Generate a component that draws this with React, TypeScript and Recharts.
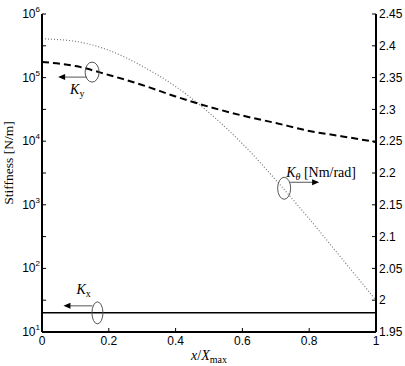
import React from 'react';
import { ComposedChart, Line, XAxis, YAxis, ReferenceDot } from 'recharts';

const xPos = [0, 0.1, 0.2, 0.3, 0.4, 0.5, 0.6, 0.7, 0.8, 0.9, 1];
const kY = [176000, 152000, 110000, 76600, 50500, 34800, 25300, 19300, 14500, 11900, 9700];
const kTheta = [2.411, 2.407, 2.393, 2.368, 2.336, 2.295, 2.246, 2.189, 2.128, 2.064, 2.0];
const kX = [20, 20, 20, 20, 20, 20, 20, 20, 20, 20, 20];

const xTicks = [0, 0.2, 0.4, 0.6, 0.8, 1];
const leftTicks = [10, 31.62, 100, 316.2, 1000, 3162, 10000, 31623, 100000, 316228, 1000000];
const rightTicks = [1.95, 2, 2.05, 2.1, 2.15, 2.2, 2.25, 2.3, 2.35, 2.4, 2.45];
const decades = [10, 100, 1000, 10000, 100000];
const mantissas = [2, 3, 4, 5, 6, 7, 8, 9];
const minorTicks = decades.flatMap((d) => mantissas.map((m) => m * d));

const data = xPos.map((x, i) => ({ x, ky: kY[i], kt: kTheta[i], kx: kX[i] }));

const SANS = 'Liberation Sans, Arial, sans-serif';
const SERIF = 'Liberation Serif, Times New Roman, serif';

const LeftTick = (props: any) => {
  const { x, y, payload } = props;
  const e = Math.log10(payload.value);
  if (Math.abs(e - Math.round(e)) > 0.01) return <g />;
  return (
    <text x={x} y={y} dy={4} textAnchor="end" fontSize={12} fontFamily={SANS} fill="#000">
      10<tspan dy={-6} fontSize={8}>{Math.round(e)}</tspan>
    </text>
  );
};

const noTick = () => <g />;

const arrowLeft = (tx: number, ty: number) => `${tx},${ty} ${tx + 7},${ty - 3} ${tx + 7},${ty + 3}`;
const arrowRight = (tx: number, ty: number) => `${tx},${ty} ${tx - 7},${ty - 3} ${tx - 7},${ty + 3}`;

const KyMark = ({ cx, cy }: any) => (
  <g>
    <ellipse cx={cx} cy={cy} rx={7} ry={10} fill="none" stroke="#555" />
    <line x1={cx - 5} y1={cy + 5} x2={cx - 30} y2={cy + 5} stroke="#555" />
    <polygon points={arrowLeft(cx - 34, cy + 5)} fill="#000" />
    <text x={cx - 22} y={cy + 22} fontFamily={SERIF} fontSize={14} fill="#000">
      <tspan fontStyle="italic">K</tspan>
      <tspan dy={3} fontSize={10}>y</tspan>
    </text>
  </g>
);

const KtMark = ({ cx, cy }: any) => (
  <g>
    <ellipse cx={cx} cy={cy} rx={6.5} ry={11} fill="none" stroke="#555" />
    <line x1={cx + 6} y1={cy - 6} x2={cx + 30} y2={cy - 6} stroke="#555" />
    <polygon points={arrowRight(cx + 35, cy - 6)} fill="#000" />
    <text x={cx + 2} y={cy - 11} fontFamily={SERIF} fontSize={14} fill="#000">
      <tspan fontStyle="italic">K</tspan>
      <tspan dy={3} fontSize={10} fontStyle="italic">θ</tspan>
      <tspan dy={-3}> [Nm/rad]</tspan>
    </text>
  </g>
);

const KxMark = ({ cx, cy }: any) => (
  <g>
    <ellipse cx={cx} cy={cy} rx={5.5} ry={11} fill="none" stroke="#555" />
    <line x1={cx - 5} y1={cy - 7} x2={cx - 30} y2={cy - 7} stroke="#555" />
    <polygon points={arrowLeft(cx - 34, cy - 7)} fill="#000" />
    <text x={cx - 21} y={cy - 19} fontFamily={SERIF} fontSize={14} fill="#000">
      <tspan fontStyle="italic">K</tspan>
      <tspan dy={3} fontSize={10}>x</tspan>
    </text>
  </g>
);

const YLabel = (props: any) => {
  const { viewBox } = props;
  const x = viewBox.x + 13;
  const y = viewBox.y + viewBox.height / 2 - 10;
  return (
    <text x={x} y={y} transform={`rotate(-90, ${x}, ${y})`} textAnchor="middle" fontFamily={SERIF} fontSize={13.5} fill="#000">
      Stiffness [N/m]
    </text>
  );
};

const XLabel = (props: any) => {
  const { viewBox } = props;
  const x = viewBox.x + viewBox.width / 2;
  const y = viewBox.y + 28;
  return (
    <text x={x} y={y} textAnchor="middle" fontFamily={SERIF} fontSize={14} fill="#000">
      <tspan fontStyle="italic">x</tspan>
      <tspan>/</tspan>
      <tspan fontStyle="italic">X</tspan>
      <tspan dy={3} fontSize={10}>max</tspan>
    </text>
  );
};

const axisLine = { stroke: '#000', strokeWidth: 2 };
const tickLine = { stroke: '#000', strokeWidth: 1 };

export default function App() {
  return (
    <div style={{ position: 'absolute', left: 0, top: 0 }}>
      <ComposedChart width={405} height={366} data={data} margin={{ top: 14, right: 0, bottom: 0, left: 0 }}>
        <XAxis
          xAxisId="b"
          dataKey="x"
          type="number"
          domain={[0, 1]}
          ticks={xTicks}
          interval={0}
          allowDataOverflow
          height={34}
          tickSize={-4}
          tickMargin={8}
          axisLine={axisLine}
          tickLine={tickLine}
          tick={{ fontSize: 12, fill: '#000', fontFamily: SANS }}
          label={XLabel}
        />
        <XAxis
          xAxisId="t"
          orientation="top"
          dataKey="x"
          type="number"
          domain={[0, 1]}
          ticks={xTicks}
          interval={0}
          allowDataOverflow
          height={0}
          tickSize={-4}
          axisLine={axisLine}
          tickLine={tickLine}
          tick={noTick}
        />
        <YAxis
          yAxisId="minL"
          scale="log"
          type="number"
          domain={[10, 1000000]}
          allowDataOverflow
          ticks={minorTicks}
          interval={0}
          width={0}
          tickSize={-2}
          axisLine={false}
          tickLine={tickLine}
          tick={noTick}
        />
        <YAxis
          yAxisId="left"
          scale="log"
          type="number"
          domain={[10, 1000000]}
          allowDataOverflow
          ticks={leftTicks}
          interval={0}
          width={42}
          tickSize={-4}
          tickMargin={6}
          axisLine={axisLine}
          tickLine={tickLine}
          tick={LeftTick}
          label={YLabel}
        />
        <YAxis
          yAxisId="minR"
          orientation="right"
          scale="log"
          type="number"
          domain={[10, 1000000]}
          allowDataOverflow
          ticks={minorTicks}
          interval={0}
          width={0}
          tickSize={-2}
          axisLine={false}
          tickLine={tickLine}
          tick={noTick}
        />
        <YAxis
          yAxisId="right"
          orientation="right"
          type="number"
          domain={[1.95, 2.45]}
          allowDataOverflow
          ticks={rightTicks}
          interval={0}
          width={29}
          tickSize={-4}
          tickMargin={7}
          axisLine={axisLine}
          tickLine={tickLine}
          tick={{ fontSize: 12, fill: '#000', fontFamily: SANS }}
        />
        <Line
          xAxisId="b"
          yAxisId="right"
          dataKey="kt"
          type="monotone"
          stroke="#777"
          strokeWidth={1.2}
          strokeDasharray="1 2"
          dot={false}
          isAnimationActive={false}
        />
        <Line
          xAxisId="b"
          yAxisId="left"
          dataKey="ky"
          type="monotone"
          stroke="#000"
          strokeWidth={2}
          strokeDasharray="7 4"
          dot={false}
          isAnimationActive={false}
        />
        <Line
          xAxisId="b"
          yAxisId="left"
          dataKey="kx"
          type="linear"
          stroke="#000"
          strokeWidth={1.5}
          dot={false}
          isAnimationActive={false}
        />
        <ReferenceDot xAxisId="b" yAxisId="left" x={0.15} y={122000} ifOverflow="visible" shape={KyMark} />
        <ReferenceDot xAxisId="b" yAxisId="right" x={0.725} y={2.176} ifOverflow="visible" shape={KtMark} />
        <ReferenceDot xAxisId="b" yAxisId="left" x={0.166} y={20} ifOverflow="visible" shape={KxMark} />
      </ComposedChart>
    </div>
  );
}
